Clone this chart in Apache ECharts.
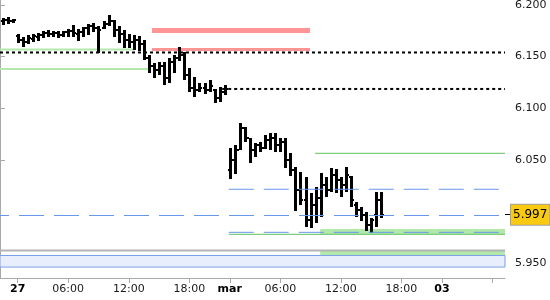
<!DOCTYPE html>
<html><head><meta charset="utf-8">
<script src="https://cdn.jsdelivr.net/npm/echarts@6/dist/echarts.min.js"></script>
<style>html,body{margin:0;padding:0;background:#fff}#c{width:550px;height:300px}</style>
</head><body><div id="c"></div>
<script>
// ---- data: one OHLC bar per 30-min slot (slot index = array index) ----
const opens = [
6.184,6.185,6.184,6.170,6.166,6.164,6.167,6.169,6.171,6.173,
6.172,6.173,6.171,6.174,6.175,6.172,6.174,6.178,6.180,6.178,
6.178,6.182,6.184,6.176,6.172,6.166,6.164,6.166,6.162,6.149,
6.141,6.137,6.141,6.129,6.145,6.149,6.152,6.132,6.120,6.118,
6.120,6.118,6.118,6.110,6.116,
6.040,6.050,6.060,6.081,6.071,6.060,6.064,6.062,6.069,6.071,
6.064,6.067,6.050,6.040,6.021,6.011,5.992,6.006,6.013,6.026,
6.021,6.035,6.031,6.026,6.033,6.006,6.002,5.997,5.987,5.997,
6.011];
const highs = [
6.187,6.188,6.186,6.172,6.169,6.171,6.172,6.173,6.175,6.176,
6.175,6.175,6.175,6.177,6.181,6.177,6.179,6.182,6.183,6.180,
6.184,6.190,6.185,6.180,6.176,6.172,6.171,6.170,6.166,6.152,
6.144,6.145,6.145,6.149,6.152,6.159,6.154,6.139,6.130,6.124,
6.124,6.127,6.119,6.121,6.123,
6.062,6.064,6.086,6.082,6.071,6.066,6.067,6.074,6.076,6.076,
6.071,6.071,6.057,6.043,6.038,6.033,6.018,6.024,6.037,6.033,
6.042,6.041,6.033,6.043,6.034,6.009,6.004,6.000,5.994,6.019,
6.019];
const lows = [
6.180,6.181,6.182,6.163,6.159,6.162,6.164,6.165,6.168,6.169,
6.169,6.168,6.169,6.169,6.169,6.165,6.169,6.171,6.174,6.154,
6.176,6.179,6.169,6.164,6.159,6.158,6.156,6.155,6.147,6.135,
6.129,6.132,6.123,6.125,6.135,6.145,6.127,6.116,6.111,6.115,
6.113,6.115,6.105,6.106,6.113,
6.032,6.036,6.060,6.067,6.047,6.052,6.057,6.060,6.060,6.058,
6.057,6.042,6.035,6.000,6.006,5.985,5.984,5.989,5.994,6.014,
6.019,6.018,6.014,6.019,6.004,5.994,5.990,5.982,5.979,5.985,
5.994];
const closes = [
6.185,6.184,6.185,6.166,6.164,6.168,6.170,6.171,6.173,6.172,
6.173,6.171,6.174,6.175,6.173,6.174,6.178,6.180,6.178,6.176,
6.182,6.184,6.176,6.172,6.166,6.164,6.166,6.162,6.149,6.141,
6.137,6.141,6.129,6.145,6.149,6.152,6.132,6.120,6.118,6.120,
6.118,6.122,6.110,6.116,6.119,
6.050,6.060,6.081,6.071,6.060,6.064,6.062,6.069,6.071,6.064,
6.067,6.050,6.040,6.021,6.011,5.992,6.006,6.013,6.026,6.021,
6.035,6.031,6.026,6.035,6.011,6.002,5.997,5.987,5.992,6.011,
5.997];

const totalSlots = 100;
const xTickSlots  = [3, 13, 25, 37, 45, 55, 67, 79, 87, 97];
const xTickLabels = ['27','06:00','12:00','18:00','mar','06:00','12:00','18:00','03',''];
const boldLabels  = ['27','mar','03'];
const yTicks      = [5.95, 6.05, 6.10, 6.15, 6.20];
const lastPrice   = 5.997;
const yMin = 5.9357, yMax = 6.2048;

// horizontal levels: [value, fromSlot, toSlot]
const softGreenLevels = [[6.157, 0, 26.7], [6.138, 0, 29.3]];
const redLevels       = [[6.1753, 30.1, 61.4], [6.157, 30.1, 61.4]];
const dottedLevels    = [[6.154, 0, 100], [6.1187, 44, 100]];
const greenLevels     = [[6.0564, 62.4, 100], [5.978, 45.3, 100]];
const blueDashLevels  = [[6.0216, 45.3, 100], [5.9962, 0, 100], [5.9799, 45.3, 100]];
const grayLevels      = [[5.9623, 0, 100]];
// bands: [low, high, fromSlot, toSlot]
const greenBands = [[5.9783, 5.9832, 63.4, 100], [5.958, 5.9618, 63.4, 100]];
const blueBands  = [[5.9463, 5.9575, 0, 100]];

const FONT = 'DejaVu Sans';
const chart = echarts.init(document.getElementById('c'), null, {renderer:'canvas'});

function hline(l, style, z) {
  return {type:'line', data:[[l[1], l[0]], [l[2], l[0]]], symbol:'none', silent:true,
    animation:false, lineStyle:style, z:z};
}
function bandSeries(bands, fill, stroke, z) {
  return {type:'custom', silent:true, animation:false, z:z,
    data: bands.map(b => [b[2], b[3], b[0], b[1]]),
    encode:{x:[0,1], y:[2,3]},
    renderItem(params, api) {
      const p0 = api.coord([api.value(0), api.value(3)]);
      const p1 = api.coord([api.value(1), api.value(2)]);
      return {type:'rect', shape:{x:p0[0], y:p0[1], width:p1[0]-p0[0], height:p1[1]-p0[1]},
        style:{fill:fill, stroke:stroke || null, lineWidth:1}};
    }};
}

const series = [];
blueBands.forEach(b => series.push(bandSeries([b], '#e8eefc', '#7aa0e8', 1)));
greenBands.forEach(b => series.push(bandSeries([b], '#b3e8ab', null, 1)));
grayLevels.forEach(l => series.push(hline(l, {color:'#b4b4b4', width:2}, 2)));
softGreenLevels.forEach(l => series.push(hline(l, {color:'#b5e8ad', width:2}, 2)));
redLevels.forEach((l, i) => series.push(hline(l, {color:'#ff9595', width: i === 0 ? 5 : 3}, 2)));
greenLevels.forEach(l => series.push(hline(l, {color:'#5cc45c', width:1}, 2)));
dottedLevels.forEach(l => series.push(hline(l, {color:'#000', width:2, type:[3,3]}, 2)));

series.push({
  type:'custom', animation:false, z:5,
  data: opens.map((o, i) => [i + 0.5, o, highs[i], lows[i], closes[i]]),
  encode:{x:0, y:[1,2,3,4]},
  renderItem(params, api) {
    const x = api.value(0);
    const pH = api.coord([x, api.value(2)]);
    const pL = api.coord([x, api.value(3)]);
    const pO = api.coord([x, api.value(1)]);
    const pC = api.coord([x, api.value(4)]);
    const cx = Math.round(pH[0]);
    return {type:'group', children:[
      {type:'rect', shape:{x:cx-1, y:Math.round(pH[1]), width:3, height:Math.max(2, Math.round(pL[1]-pH[1]))}, style:{fill:'#000'}},
      {type:'rect', shape:{x:cx-2, y:Math.round(pO[1])-1, width:1, height:2}, style:{fill:'#000'}},
      {type:'rect', shape:{x:cx+2, y:Math.round(pC[1])-1, width:1, height:2}, style:{fill:'#000'}}
    ]};
  }
});

blueDashLevels.forEach(l => series.push(hline(l, {color:'#6896ec', width:1, type:[25,10],
  dashOffset: l[1] === 0 ? 16 : 0}, 6)));

const tickVals = xTickSlots.map(s => s + 0.5);
chart.setOption({
  animation:false,
  grid:{left:0, right:45, top:0, bottom:22, containLabel:false, outerBoundsMode:'none'},
  xAxis:{type:'value', min:0, max:totalSlots, splitLine:{show:false},
    axisLine:{lineStyle:{color:'#a9a9a9', width:1}},
    axisTick:{customValues:tickVals, length:5, lineStyle:{color:'#a9a9a9'}},
    axisLabel:{customValues:tickVals.slice(0, 9), margin:6, fontFamily:FONT, fontSize:11, color:'#1a1a1a',
      formatter(v){
        const i = tickVals.findIndex(t => Math.abs(t - v) < 0.01);
        const s = i >= 0 ? xTickLabels[i] : '';
        return boldLabels.includes(s) ? '{b|' + s + '}' : s;
      },
      rich:{b:{fontWeight:'bold', fontFamily:FONT, fontSize:11, color:'#000'}}}},
  yAxis:[
    {type:'value', position:'right', min:yMin, max:yMax, splitLine:{show:false},
      axisLine:{show:true, lineStyle:{color:'#a9a9a9', width:1}},
      axisTick:{show:true, customValues:yTicks, length:5, lineStyle:{color:'#a9a9a9'}},
      axisLabel:{customValues:yTicks, margin:10, fontFamily:FONT, fontSize:11, color:'#1a1a1a',
        formatter:v => v.toFixed(3)}},
    {type:'value', position:'right', min:yMin, max:yMax, splitLine:{show:false},
      axisLine:{show:false},
      axisTick:{show:true, customValues:[lastPrice], length:5, lineStyle:{color:'#000'}},
      axisLabel:{customValues:[lastPrice], margin:6, fontFamily:FONT, fontSize:12, color:'#000',
        backgroundColor:'#f8cb12', borderColor:'#a0a0a0', borderWidth:1, padding:[3,2,3,2], lineHeight:14,
        formatter:v => v.toFixed(3)}}
  ],
  series: series
});
</script>
</body></html>
